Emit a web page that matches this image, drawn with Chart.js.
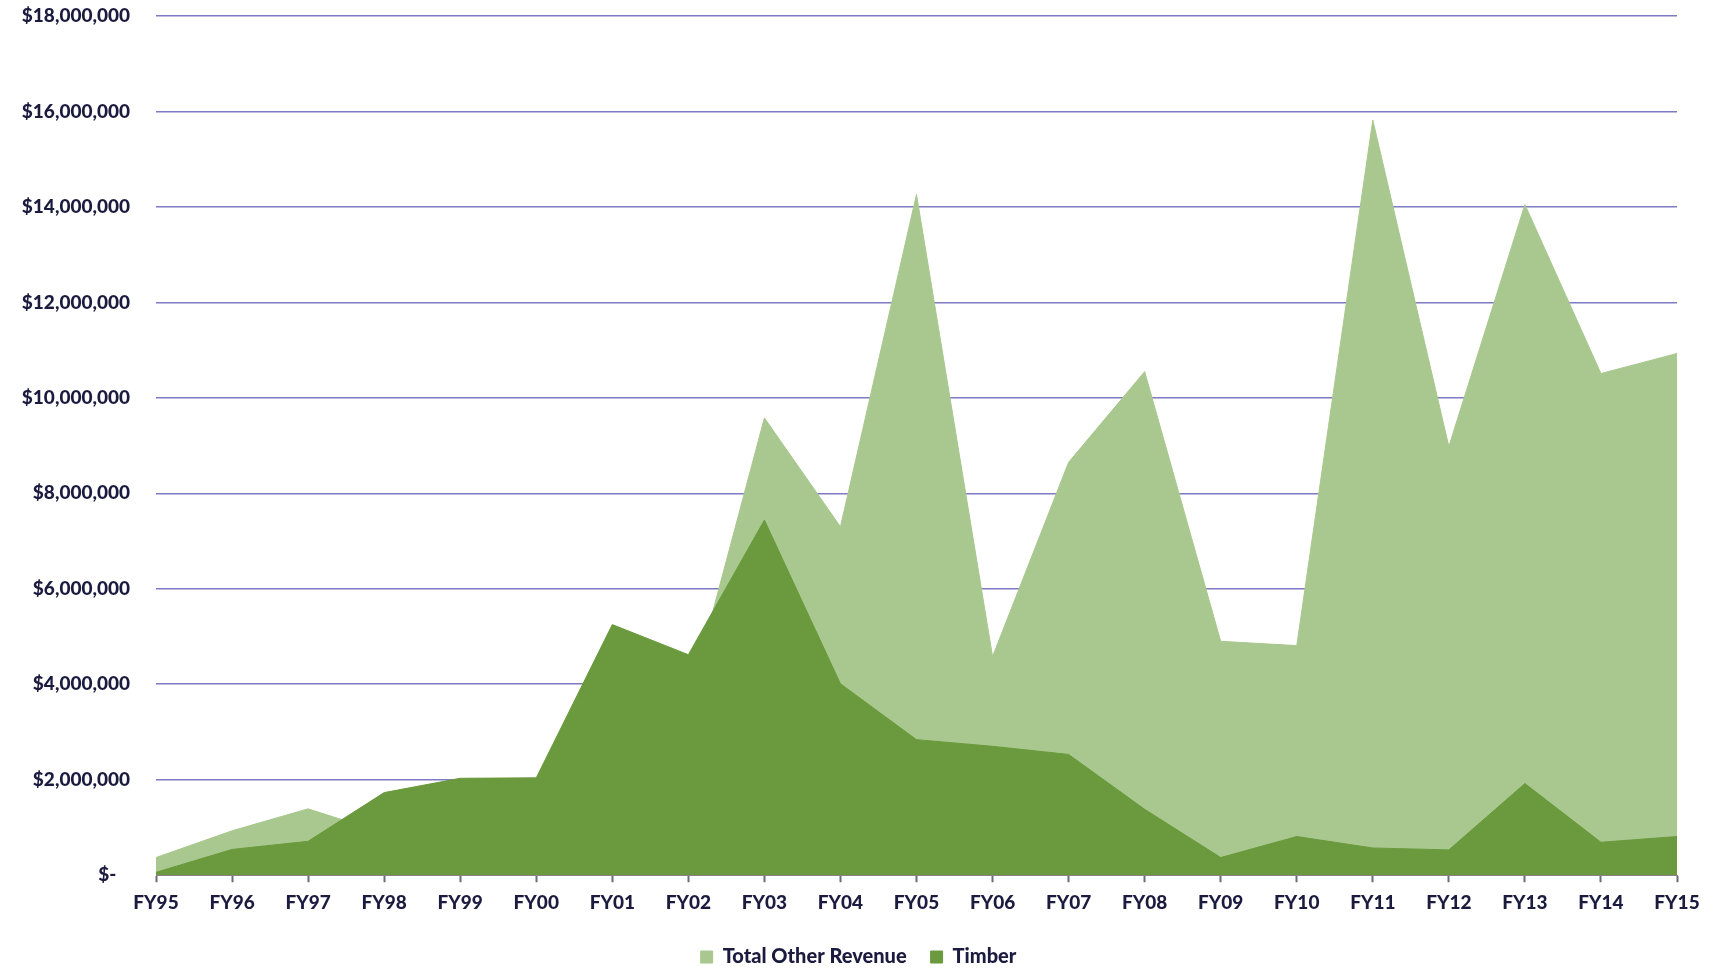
<!DOCTYPE html>
<html>
<head>
<meta charset="utf-8">
<title>Other Revenue vs Timber</title>
<script src="https://cdn.jsdelivr.net/npm/chart.js@4.4.1/dist/chart.umd.min.js"></script>
<style>
  html, body { margin: 0; padding: 0; background: #fff; }
  canvas { display: block; }
</style>
</head>
<body>
<canvas id="revChart" width="1717" height="969"></canvas>
<script>
var years = ["FY95","FY96","FY97","FY98","FY99","FY00","FY01","FY02","FY03","FY04","FY05",
             "FY06","FY07","FY08","FY09","FY10","FY11","FY12","FY13","FY14","FY15"];

// dollars
var totalOtherRevenue = [370000, 930000, 1390000, 880000, 1200000, 1500000, 3000000, 3600000, 9580000, 7300000, 14260000,
                         4580000, 8650000, 10550000, 4900000, 4810000, 15820000, 8980000, 14050000, 10510000, 10930000];
var timber = [60000, 540000, 710000, 1730000, 2030000, 2040000, 5250000, 4620000, 7440000, 4010000, 2840000,
              2700000, 2530000, 1380000, 370000, 810000, 570000, 530000, 1920000, 690000, 810000];

var yTicks = [0, 2000000, 4000000, 6000000, 8000000, 10000000, 12000000, 14000000, 16000000, 18000000];

var textColor = "#1b1b3f";
var lightGreen = "#a9c88f";
var darkGreen = "#6a9a3d";
var labelFont = { family: "Lato", size: 19, weight: "900" };

function money(v) {
    if (v === 0) return "$-   ";
    return "$" + v.toLocaleString("en-US");
}

// legend sits centred on the page, not on the space left of the right padding
var centreLegend = {
    id: "centreLegend",
    afterLayout: function (chart) {
        var shift = (chart.width - chart.legend.right) / 2;
        chart.legend.left += shift;
        chart.legend.right += shift;
    }
};

var ctx = document.getElementById('revChart').getContext("2d");

var revChart = new Chart(ctx, {
    type: "line",
    data: {
        labels: years,
        datasets: [
            {
                label: "Total Other Revenue",
                data: totalOtherRevenue,
                backgroundColor: lightGreen,
                borderColor: lightGreen,
                borderWidth: 1,
                fill: "origin",
                tension: 0,
                pointRadius: 0,
                order: 2
            },
            {
                label: "Timber",
                data: timber,
                backgroundColor: darkGreen,
                borderColor: darkGreen,
                borderWidth: 1,
                fill: "origin",
                tension: 0,
                pointRadius: 0,
                order: 1
            }
        ]
    },
    plugins: [centreLegend],
    options: {
        responsive: false,
        animation: false,
        layout: {
            padding: { top: 16, right: 40, bottom: -8, left: 0 }
        },
        scales: {
            x: {
                offset: false,
                grid: {
                    drawOnChartArea: false,
                    drawTicks: true,
                    tickLength: 7,
                    tickColor: "#6a6a7a",
                    tickWidth: 2
                },
                border: { display: true, color: "#8d7f8c", width: 1 },
                ticks: {
                    color: textColor,
                    padding: 9,
                    maxRotation: 0,
                    autoSkip: false,
                    font: labelFont
                }
            },
            y: {
                min: 0,
                max: 18000000,
                afterBuildTicks: function (scale) {
                    scale.ticks = yTicks.map(function (v) { return { value: v }; });
                },
                afterFit: function (scale) {
                    scale.width = 156;
                    scale.paddingTop = 0;
                    scale.paddingBottom = 0;
                },
                grid: {
                    color: "#7d7bc2",
                    lineWidth: 1.6,
                    drawTicks: false
                },
                border: { display: false },
                ticks: {
                    color: textColor,
                    padding: 26,
                    callback: function (v) { return money(v); },
                    font: labelFont
                }
            }
        },
        plugins: {
            legend: {
                display: true,
                position: "bottom",
                labels: {
                    color: textColor,
                    boxWidth: 12,
                    boxHeight: 12,
                    padding: 24,
                    font: { family: "Lato", size: 20, weight: "900" },
                    sort: function (a, b) { return a.datasetIndex - b.datasetIndex; }
                }
            },
            tooltip: { enabled: false }
        }
    }
});
</script>
</body>
</html>
